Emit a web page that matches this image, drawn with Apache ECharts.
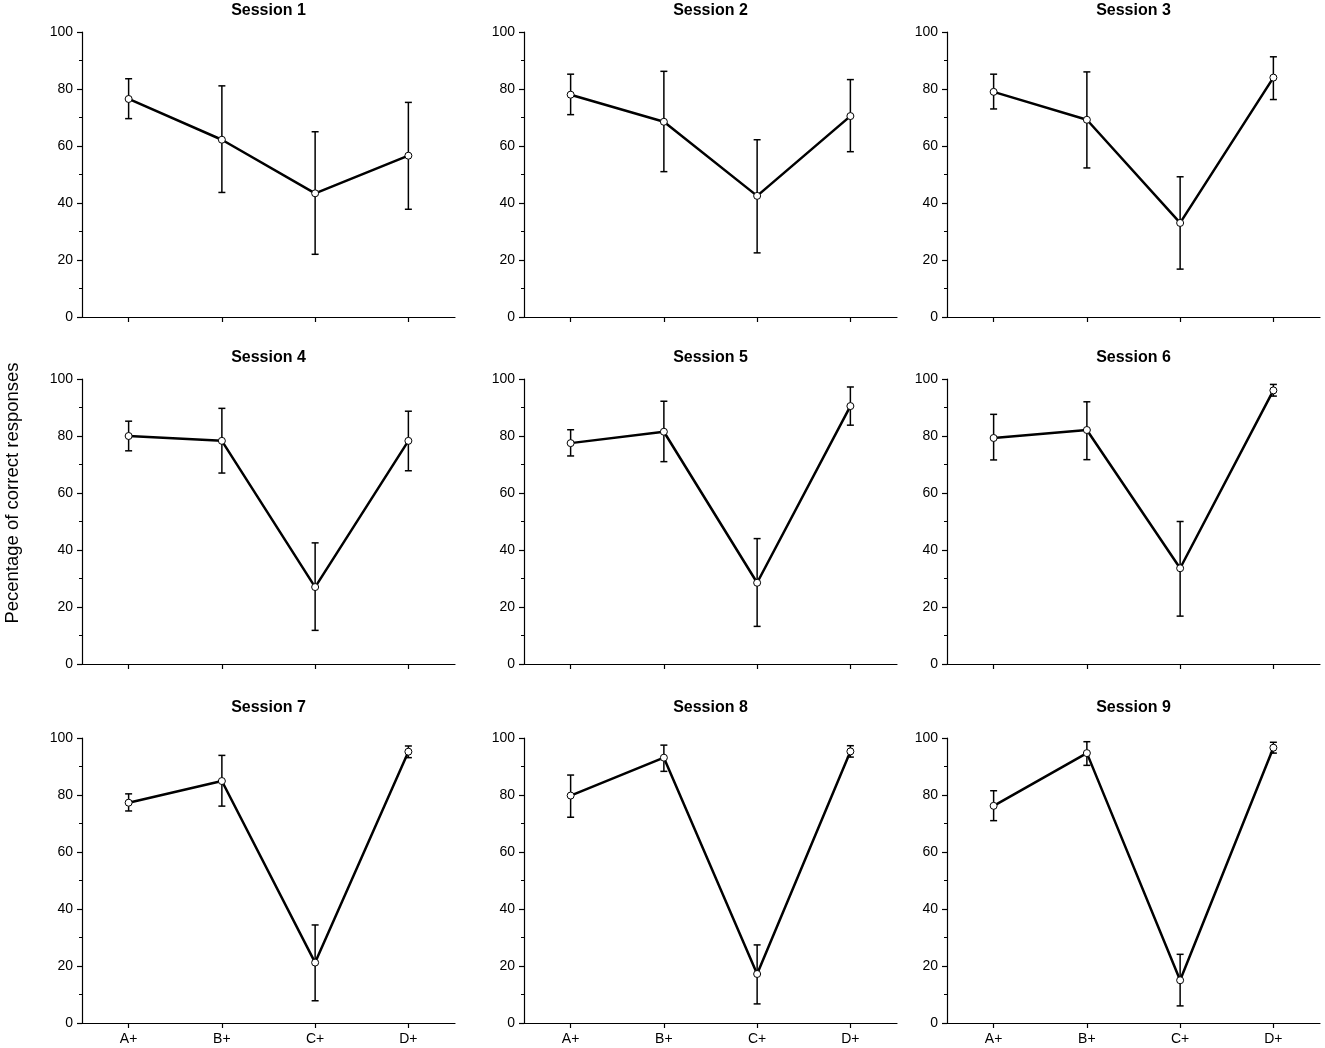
<!DOCTYPE html>
<html>
<head>
<meta charset="utf-8">
<script src="https://cdn.jsdelivr.net/npm/echarts@6/dist/echarts.min.js"></script>
<style>
html,body{margin:0;padding:0;background:#fff;}
#chart{width:1325px;height:1048px;}
</style>
</head>
<body>
<div id="chart"></div>
<script>
// ---- data ----
const categories = ['A+', 'B+', 'C+', 'D+'];
const sessionTitles = ['Session 1','Session 2','Session 3','Session 4','Session 5','Session 6','Session 7','Session 8','Session 9'];
const yTicks = [0, 20, 40, 60, 80, 100];
const yAxisName = 'Pecentage of correct responses';

const s1Mean  = [76.5, 62.2, 43.4, 56.6];
const s1Upper = [83.6, 81.1, 65.0, 75.3];
const s1Lower = [69.6, 43.7, 22.0, 37.8];

const s2Mean  = [78.0, 68.5, 42.5, 70.5];
const s2Upper = [85.2, 86.2, 62.2, 83.3];
const s2Lower = [71.0, 51.0, 22.5, 58.0];

const s3Mean  = [79.0, 69.2, 33.0, 84.0];
const s3Upper = [85.2, 86.0, 49.2, 91.3];
const s3Lower = [73.0, 52.3, 16.8, 76.3];

const s4Mean  = [80.0, 78.3, 27.0, 78.3];
const s4Upper = [85.2, 89.7, 42.5, 88.7];
const s4Lower = [74.8, 67.0, 11.8, 67.8];

const s5Mean  = [77.5, 81.5, 28.5, 90.5];
const s5Upper = [82.2, 92.2, 44.0, 97.2];
const s5Lower = [73.0, 71.0, 13.2, 83.8];

const s6Mean  = [79.3, 82.1, 33.6, 96.0];
const s6Upper = [87.6, 92.0, 50.0, 98.1];
const s6Lower = [71.6, 71.7, 16.8, 94.0];

const s7Mean  = [77.3, 84.9, 21.2, 95.2];
const s7Upper = [80.4, 93.9, 34.4, 97.2];
const s7Lower = [74.4, 76.1, 7.8, 93.1];

const s8Mean  = [79.8, 93.1, 17.2, 95.3];
const s8Upper = [87.0, 97.5, 27.4, 97.3];
const s8Lower = [72.2, 88.3, 6.7, 93.3];

const s9Mean  = [76.2, 94.7, 15.0, 96.6];
const s9Upper = [81.5, 98.7, 24.1, 98.5];
const s9Lower = [71.0, 90.4, 6.0, 94.7];

const means  = [s1Mean, s2Mean, s3Mean, s4Mean, s5Mean, s6Mean, s7Mean, s8Mean, s9Mean];
const uppers = [s1Upper, s2Upper, s3Upper, s4Upper, s5Upper, s6Upper, s7Upper, s8Upper, s9Upper];
const lowers = [s1Lower, s2Lower, s3Lower, s4Lower, s5Lower, s6Lower, s7Lower, s8Lower, s9Lower];

// ---- layout ----
const colLeft = [82, 524, 947];
const plotW = 373;
const rowTop = [32, 379, 738];
const titleCenterY = [11, 358, 708];
const plotH = 285;
const FONT = '"Liberation Sans", Arial, sans-serif';

const grids = [], xAxes = [], yAxes = [], series = [], graphics = [];

for (let i = 0; i < 9; i++) {
  const r = Math.floor(i / 3), c = i % 3;
  grids.push({ left: colLeft[c], top: rowTop[r], width: plotW, height: plotH });
  graphics.push({
    type: 'text',
    x: colLeft[c] + plotW / 2, y: titleCenterY[r],
    style: {
      text: sessionTitles[i],
      font: 'bold 16px ' + FONT,
      fill: '#000',
      textAlign: 'center',
      textVerticalAlign: 'middle'
    }
  });
  xAxes.push({
    type: 'category', gridIndex: i, data: categories, boundaryGap: true,
    axisLine: { lineStyle: { color: '#000', width: 1.2 } },
    axisTick: { show: true, alignWithLabel: true, length: 5, lineStyle: { color: '#000', width: 1.2 } },
    axisLabel: { show: r === 2, fontFamily: FONT, fontSize: 14, color: '#000', margin: 9 },
    splitLine: { show: false }
  });
  yAxes.push({
    type: 'value', gridIndex: i, min: yTicks[0], max: yTicks[yTicks.length - 1], interval: 20,
    axisLine: { show: true, lineStyle: { color: '#000', width: 1.2 } },
    axisTick: { show: true, length: 5, lineStyle: { color: '#000', width: 1.2 } },
    minorTick: { show: true, splitNumber: 2, length: 3, lineStyle: { color: '#000', width: 1 } },
    axisLabel: { fontFamily: FONT, fontSize: 14, color: '#000', margin: 9 },
    splitLine: { show: false }
  });
  const errData = categories.map((_, k) => [k, uppers[i][k], lowers[i][k]]);
  series.push({
    type: 'custom', xAxisIndex: i, yAxisIndex: i, z: 2,
    data: errData,
    renderItem: function (params, api) {
      const x = api.value(0);
      const top = api.coord([x, api.value(1)]);
      const bot = api.coord([x, api.value(2)]);
      const hw = 3.5;
      const st = { stroke: '#000', lineWidth: 1.5 };
      return {
        type: 'group',
        children: [
          { type: 'line', shape: { x1: top[0], y1: top[1], x2: bot[0], y2: bot[1] }, style: st },
          { type: 'line', shape: { x1: top[0] - hw, y1: top[1], x2: top[0] + hw, y2: top[1] }, style: st },
          { type: 'line', shape: { x1: bot[0] - hw, y1: bot[1], x2: bot[0] + hw, y2: bot[1] }, style: st }
        ]
      };
    }
  });
  series.push({
    type: 'line', xAxisIndex: i, yAxisIndex: i, z: 3,
    data: means[i],
    symbol: 'circle', symbolSize: 7,
    itemStyle: { color: '#fff', borderColor: '#000', borderWidth: 1 },
    lineStyle: { color: '#000', width: 2.5 },
    animation: false
  });
}

graphics.push({
  type: 'text',
  x: 13, y: 493,
  rotation: Math.PI / 2,
  style: {
    text: yAxisName,
    font: 'normal 18.5px ' + FONT,
    fill: '#000',
    textAlign: 'center',
    textVerticalAlign: 'middle'
  }
});

const chart = echarts.init(document.getElementById('chart'), null, { renderer: 'canvas' });
chart.setOption({
  animation: false,
  backgroundColor: '#fff',
  grid: grids, xAxis: xAxes, yAxis: yAxes, series: series,
  graphic: graphics
});
</script>
</body>
</html>
